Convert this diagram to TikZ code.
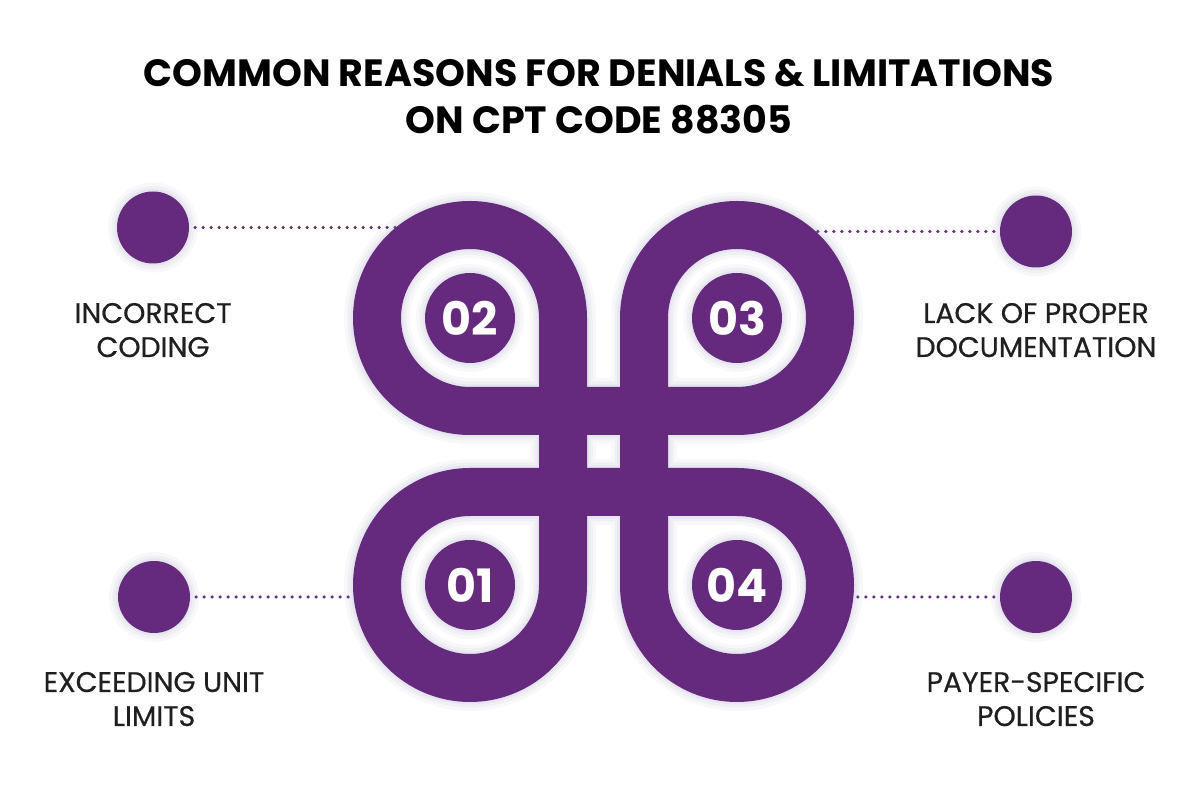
\documentclass[tikz,border=0pt]{standalone}
\usepackage{fontspec}
\setmainfont{Poppins}
\newfontfamily\lblfont{Poppins}[FakeBold=0.5]
\usetikzlibrary{positioning,calc}
\definecolor{cptpurple}{HTML}{652A7E}
\definecolor{glow}{HTML}{7C84B0}

\begin{document}
\begin{tikzpicture}[x=1pt,y=1pt,
	halo/.style={preaction={draw=glow,line width=#1+18pt,opacity=.05},
		preaction={draw=glow,line width=#1+11pt,opacity=.07},
		preaction={draw=glow,line width=#1+5pt,opacity=.08}},
	dotc/.style={circle,fill=cptpurple,minimum size=72pt,inner sep=0pt,halo=0pt},
	numc/.style={circle,fill=cptpurple,minimum size=90pt,inner sep=0pt,halo=0pt,
		text=white,font=\bfseries\fontsize{46}{46}\selectfont},
	lbl/.style={align=center,inner sep=0pt,anchor=base,text=black!88,
		font=\lblfont\fontsize{28.3}{34}\selectfont},
	dots/.style={cptpurple,line width=3.5pt,line cap=round,dash pattern=on 0pt off 8pt,shorten <=6pt}]
	\fill[white] (0,0) rectangle (1200,800);
	\useasboundingbox (0,0) rectangle (1200,800);
	%
	\node[align=center,anchor=base,inner sep=0pt,font=\bfseries\fontsize{38}{47}\selectfont]
		(title) at (599,666) {COMMON REASONS FOR DENIALS \& LIMITATIONS\\ON CPT CODE 88305};
	%
	\node[dotc] (c2) at (153,572.5) {};
	\node[dotc] (c3) at (1036,568.5) {};
	\node[dotc] (c1) at (154,203) {};
	\node[dotc] (c4) at (1036,203) {};
	\coordinate (e2) at (396,572.5);
	\coordinate (e3) at (815,568.5);
	\coordinate (e1) at (355,203);
	\coordinate (e4) at (852,203);
	\foreach \i in {1,...,4}
		\draw[dots] (c\i) -- (e\i);
	%
	\draw[cptpurple,line width=48pt,halo=48pt]
		(563,482) arc[start angle=0,end angle=270,radius=93pt] -- (737,389)
		arc[start angle=-90,end angle=180,radius=93pt] -- (644,215)
		arc[start angle=180,end angle=450,radius=93pt] -- (470,308)
		arc[start angle=90,end angle=360,radius=93pt] -- cycle;
	%
	\node[numc] (n2) at (470,482) {02};
	\node[numc] (n3) at (737,482) {03};
	\node[numc] (n1) at (470,215) {01};
	\node[numc] (n4) at (737,215) {04};
	%
	\node[lbl] (l2) at ($(c2)+(0,-129.5)$) {INCORRECT\\CODING};
	\node[lbl] (l3) at ($(c3)+(0,-125.5)$) {LACK OF PROPER\\DOCUMENTATION};
	\node[lbl] (l1) at ($(c1)+(0,-129)$) {EXCEEDING UNIT\\LIMITS};
	\node[lbl] (l4) at ($(c4)+(0,-129)$) {PAYER-SPECIFIC\\POLICIES};
\end{tikzpicture}
\end{document}
